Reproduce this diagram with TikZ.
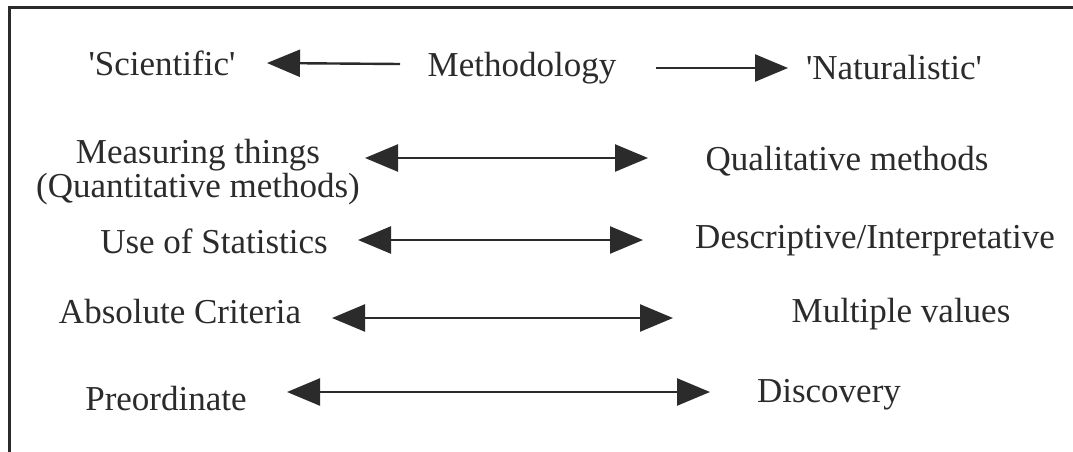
\documentclass[tikz,border=0pt]{standalone}
\usepackage{fontspec}
\setmainfont{Liberation Serif}
\usetikzlibrary{arrows.meta}
\definecolor{ink}{HTML}{2B2B2B}
\tikzset{
  lbl/.style={font=\fontsize{35}{34}\selectfont, text=ink, inner sep=0pt, anchor=base},
  tipR/.style={-{Triangle[length=33pt,width=27pt]}},
  link/.style={draw=ink, line width=2.4pt},
  both/.style={link, {Triangle[length=33pt,width=27pt]}-{Triangle[length=33pt,width=27pt]}},
  frameline/.style={draw=ink, line width=3pt}
}
\begin{document}
\begin{tikzpicture}[x=1pt,y=-1pt]
\useasboundingbox[fill=white] (0,0) rectangle (1073,452);
% open frame: left side and top side
\coordinate (fb) at (9,452);
\coordinate (fc) at (9,8);
\coordinate (fr) at (1073,8);
\draw[frameline] (fb) -- (fc) -- (fr);

% row 1
\node[lbl] (sci) at (162,75) {\textquotesingle Scientific\textquotesingle};
\node[lbl] (meth) at (522,77) {Methodology};
\node[lbl] (nat) at (894,80) {\textquotesingle Naturalistic\textquotesingle};
\coordinate (a1l) at (267,63);
\coordinate (a1m) at (400,64);
\coordinate (a2m) at (656,68);
\coordinate (a2r) at (788,68);
\draw[link, tipR] (a1m) -- (a1l);
\draw[link, tipR] (a2m) -- (a2r);

% row 2 (base anchor sits on the last line)
\node[lbl, align=center] (meas) at (198,197) {Measuring things\\(Quantitative methods)};
\node[lbl] (qual) at (847,170) {Qualitative methods};
\coordinate (b1) at (365,158);
\coordinate (b2) at (648,158);
\draw[both] (b1) -- (b2);

% row 3
\node[lbl] (stat) at (214,253) {Use of Statistics};
\node[lbl] (desc) at (875,248) {Descriptive/Interpretative};
\coordinate (c1) at (358,240);
\coordinate (c2) at (643,240);
\draw[both] (c1) -- (c2);

% row 4
\node[lbl] (abs) at (180,323) {Absolute Criteria};
\node[lbl] (mult) at (901,322) {Multiple values};
\coordinate (d1) at (332,318);
\coordinate (d2) at (673,318);
\draw[both] (d1) -- (d2);

% row 5
\node[lbl] (pre) at (166,410) {Preordinate};
\node[lbl] (disc) at (829,402) {Discovery};
\coordinate (e1) at (287,392);
\coordinate (e2) at (710,392);
\draw[both] (e1) -- (e2);
\end{tikzpicture}
\end{document}
